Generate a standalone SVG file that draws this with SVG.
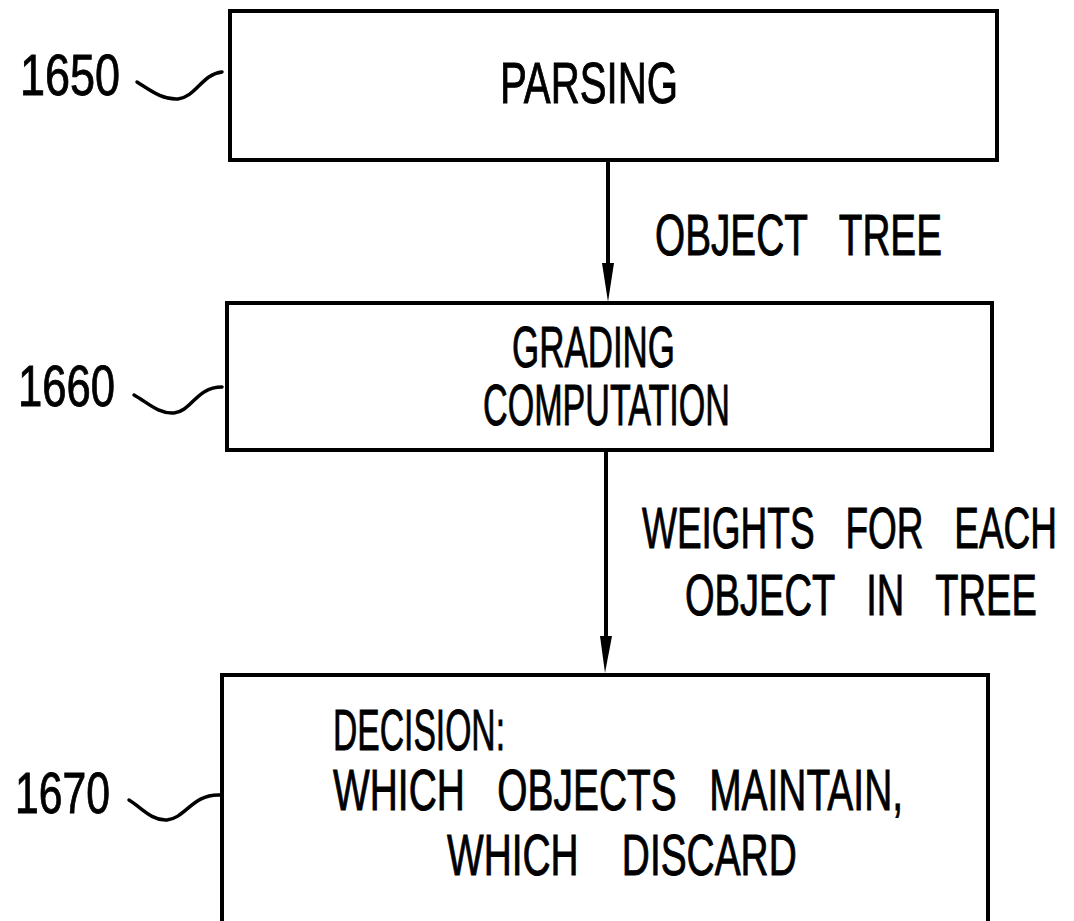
<svg xmlns="http://www.w3.org/2000/svg" width="1074" height="921" viewBox="0 0 1074 921">
<style>
.box{fill:none;stroke:#000;stroke-width:4}
.wave{fill:none;stroke:#000;stroke-width:3.5;stroke-linecap:round}
.line{stroke:#000;stroke-width:4;fill:none}
.head{fill:#000}
text{font-family:"Liberation Sans",Arial,sans-serif;font-size:58px;fill:#000;stroke:#000;stroke-width:0.9;white-space:pre}
</style>
<rect width="1074" height="921" fill="#fff"/>
<g id="node-1650">
<rect class="box" x="230" y="11" width="767" height="149"/>
<text x="500" y="103" textLength="178" lengthAdjust="spacingAndGlyphs">PARSING</text>
<text x="20" y="95" textLength="100" lengthAdjust="spacingAndGlyphs">1650</text>
<path class="wave" d="M137,82 C150,90 162,100 178,99 C196,97 202,74 222,72"/>
</g>
<g id="node-1660">
<rect class="box" x="227" y="303" width="765" height="147"/>
<text x="512" y="367" textLength="163" lengthAdjust="spacingAndGlyphs">GRADING</text>
<text x="483" y="425" textLength="247" lengthAdjust="spacingAndGlyphs">COMPUTATION</text>
<text x="18" y="406" textLength="97" lengthAdjust="spacingAndGlyphs">1660</text>
<path class="wave" d="M134,395 C147,402 158,414 174,413 C192,411 196,387 222,387"/>
</g>
<g id="node-1670">
<rect class="box" x="222" y="675" width="766" height="280"/>
<text x="333" y="750" textLength="172" lengthAdjust="spacingAndGlyphs">DECISION:</text>
<text xml:space="preserve" transform="translate(333,810) scale(0.6675,1)" x="0" y="0" textLength="854" lengthAdjust="spacingAndGlyphs">WHICH   OBJECTS   MAINTAIN,</text>
<text xml:space="preserve" transform="translate(447,875) scale(0.67,1)" x="0" y="0" textLength="522" lengthAdjust="spacingAndGlyphs">WHICH    DISCARD</text>
<text x="15" y="813" textLength="95" lengthAdjust="spacingAndGlyphs">1670</text>
<path class="wave" d="M129,800 C142,808 152,821 167,820 C186,818 192,794 220,795"/>
</g>
<g id="connectors">
<line class="line" x1="608" y1="160" x2="608" y2="270"/>
<polygon class="head" points="602,263 614,263 608,302"/>
<text xml:space="preserve" transform="translate(655,255) scale(0.6645,1)" x="0" y="0" textLength="432" lengthAdjust="spacingAndGlyphs">OBJECT   TREE</text>
<line class="line" x1="606" y1="450" x2="606" y2="645"/>
<polygon class="head" points="600,636 612,636 605,673"/>
<text xml:space="preserve" transform="translate(642,548) scale(0.6375,1)" x="0" y="0" textLength="651" lengthAdjust="spacingAndGlyphs">WEIGHTS   FOR   EACH</text>
<text xml:space="preserve" transform="translate(685,615) scale(0.654,1)" x="0" y="0" textLength="538" lengthAdjust="spacingAndGlyphs">OBJECT   IN   TREE</text>
</g>
</svg>
